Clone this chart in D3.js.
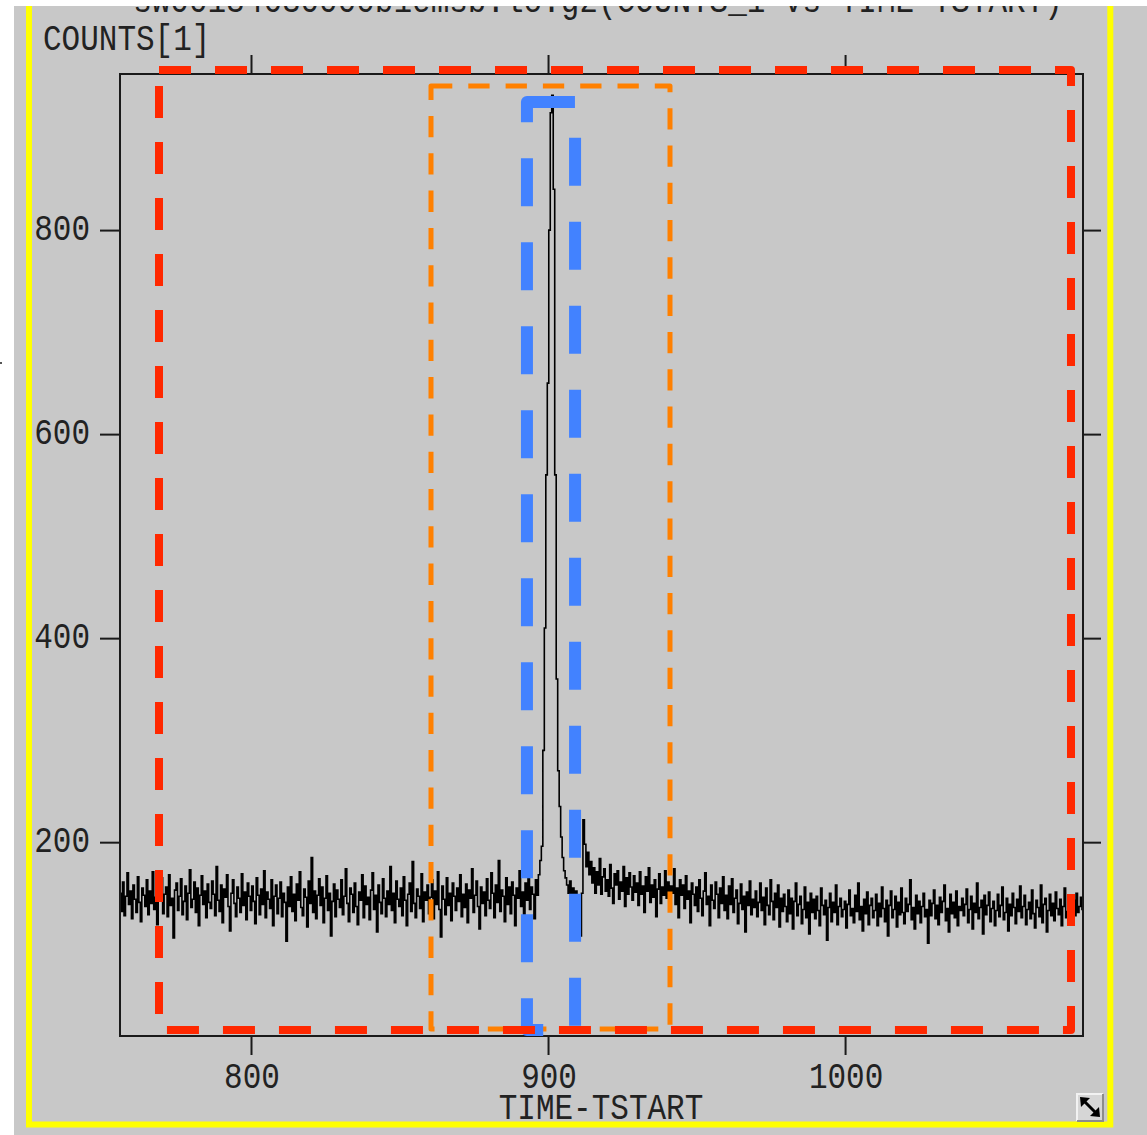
<!DOCTYPE html>
<html><head><meta charset="utf-8">
<script src="https://cdn.jsdelivr.net/npm/d3@7"></script>
<style>html,body{margin:0;padding:0;background:#fff;} svg{display:block}</style>
</head><body>
<svg id="c" width="1147" height="1135"></svg>
<script>
// ---- data ----
const titleText = "sw00134630000b1emsb.lc.gz(COUNTS_1 vs TIME-TSTART)";
const xLabel = "TIME-TSTART";
const yLabel = "COUNTS[1]";
const xTicks = [800, 900, 1000];
const yTicks = [200, 400, 600, 800];
const xDomain = [755.9, 1080.1];
const yDomain = [10, 953];
const tStart = 756;
const binSize = 0.5;
const counts = [
150,132,161,128,147,170,139,152,125,158,144,131,166,141,122,155,148,137,163,129,
152,140,171,134,146,119,158,143,165,130,149,156,127,168,138,145,106,153,160,133,
147,164,129,142,157,124,150,173,136,144,161,131,155,118,148,167,139,152,126,159,
141,135,162,149,128,176,143,132,158,121,154,146,168,137,113,150,163,140,127,156,
145,131,169,138,151,124,160,147,
133,157,142,120,165,148,129,154,139,172,126,151,144,135,163,118,147,158,130,145,
161,127,150,141,103,156,137,166,132,149,123,159,143,171,136,128,154,146,117,162,
140,185,131,152,125,148,164,138,156,121,145,167,133,150,108,142,159,127,153,144,
136,163,129,147,174,140,122,155,149,131,160,137,119,151,143,168,126,157,139,146,
124,153,170,134,148,112,158,141,130,164,145,127,152,139,176,133,150,121,162,144,
137,155,128,166,143,118,149,160,132,181,140,126,154,147,135,169,122,151,143,158,
130,146,163,125,152,139,171,134,107,157,144,129,165,138,150,123,160,147,133,155,
142,168,127,149,136,159,121,153,145,174,131,148,162,137,115,156,140,151,128,164,
143,135,170,150,126,158,141,182,132,153,147,122,165,139,156,130,161,148,118,155,
145,172,137,151,128,160,143,178,134,156,149,125,163,148,
168,182,196,290,410,560,650,800,915,932,840,560,360,270,235,205,185,172,
165,158,150,162,147,155,141,152,138,146,108,150,
222,198,176,190,168,181,160,175,150,171,158,184,149,166,174,152,
163,147,178,155,140,169,158,172,144,161,152,176,137,165,149,170,156,143,167,151,
160,138,171,149,157,131,166,152,175,141,158,146,163,127,154,169,140,156,148,172,
145,161,133,157,150,174,139,155,126,163,148,158,135,167,144,152,121,160,149,138,
156,132,163,145,128,152,170,139,147,118,158,143,135,161,149,126,155,140,166,133,
148,125,157,139,164,131,145,153,120,140,159,134,147,112,151,138,162,129,144,136,
152,127,141,160,133,146,119,155,138,129,163,142,124,150,136,158,117,145,132,149,
137,122,153,130,145,115,142,160,128,139,147,120,134,156,126,141,110,150,131,144,
125,147,133,118,155,138,129,143,104,136,150,122,141,131,158,119,137,145,127,134,
142,116,139,153,128,135,121,148,132,160,124,137,113,144,130,151,119,138,145,126,
133,149,118,140,127,156,135,122,143,108,138,152,126,134,147,117,141,129,155,131,
120,145,132,139,163,124,136,115,148,130,142,121,137,150,127,134,101,143,128,140,
153,125,138,119,146,131,142,158,123,135,112,149,130,141,126,152,118,137,133,145,
128,139,154,121,134,147,115,140,131,160,125,136,143,110,148,129,138,151,122,135,
142,118,133,149,127,138,156,124,131,145,113,139,128,150,136,120,144,132,157,126,
137,148,119,134,141,125,153,130,116,143,136,127,158,121,139,145,112,133,149,128,
140,123,151,135,129,144,118,137,155,126,132,147,120,139,143,128,150,131,137,146,
134
];
// selection boxes in data units: [t0, t1, c0, c1]
const redBox = [769.03, 1076.06, 15.9, 956.9];
const orangeBox = [860.6, 941.06, 16.9, 941.2];
const blueBox = [892.9, 909.1, 15.9, 925.6];

// ---- drawing ----
const svg = d3.select("#c");
const W = 1147, H = 1135;
const x = d3.scaleLinear().domain(xDomain).range([120, 1083]);
const y = d3.scaleLinear().domain(yDomain).range([1036, 74]);

svg.append("rect").attr("x", 0).attr("y", 0).attr("width", W).attr("height", H).attr("fill", "#fff");
svg.append("rect").attr("x", 14).attr("y", 6).attr("width", W - 14).attr("height", H - 6).attr("fill", "#c8c8c8");

const FONT = "'Liberation Mono', 'Courier New', monospace";
function label(px, py, str, anchor) {
  const g = svg.append("g").attr("transform", `translate(${px},${py}) scale(1,1.18)`);
  g.append("text").attr("x", 0).attr("y", 0).attr("text-anchor", anchor)
    .attr("font-family", FONT).attr("font-size", 31).attr("fill", "#222").text(str);
}

// title (clipped at top, as in the reference window)
label(598, 12, titleText, "middle");

// axes (ticks only)
function styleAxis(g) {
  g.select(".domain").remove();
  g.selectAll(".tick line").attr("stroke", "#1a1a1a").attr("stroke-width", 2);
  g.selectAll(".tick text").remove();
}
svg.append("g").attr("transform", "translate(0,1036)")
  .call(d3.axisBottom(x).tickValues(xTicks).tickSize(19).tickFormat("")).call(styleAxis);
svg.append("g").attr("transform", "translate(0,74)")
  .call(d3.axisTop(x).tickValues(xTicks).tickSize(19).tickFormat("")).call(styleAxis);
svg.append("g").attr("transform", "translate(120,0)")
  .call(d3.axisLeft(y).tickValues(yTicks).tickSize(20).tickFormat("")).call(styleAxis);
svg.append("g").attr("transform", "translate(1083,0)")
  .call(d3.axisRight(y).tickValues(yTicks).tickSize(18).tickFormat("")).call(styleAxis);

// tick labels
xTicks.forEach(v => label(x(v) + 1, 1088, String(v), "middle"));
yTicks.forEach(v => label(90, y(v) + 10, String(v), "end"));
label(43, 50, yLabel, "start");
label(601, 1119, xLabel, "middle");

// clip for data
svg.append("clipPath").attr("id", "pc").append("rect")
  .attr("x", 120).attr("y", 74).attr("width", 963).attr("height", 962);

const data = counts.map((c, i) => ({ t: tStart + i * binSize, c }));
const line = d3.line().x(d => x(d.t)).y(d => y(d.c)).curve(d3.curveStep);
svg.append("path").datum(data).attr("clip-path", "url(#pc)")
  .attr("d", line).attr("fill", "none").attr("stroke", "#000").attr("stroke-width", 1.6)
  .attr("stroke-linejoin", "miter");

// frame
svg.append("rect").attr("x", 120).attr("y", 74).attr("width", 963).attr("height", 962)
  .attr("fill", "none").attr("stroke", "#1a1a1a").attr("stroke-width", 2);

// selection boxes
function box(b, color, w, dash) {
  svg.append("rect")
    .attr("x", x(b[0])).attr("y", y(b[3]))
    .attr("width", x(b[1]) - x(b[0])).attr("height", y(b[2]) - y(b[3]))
    .attr("fill", "none").attr("stroke", color).attr("stroke-width", w)
    .attr("stroke-dasharray", dash).attr("stroke-linejoin", "round");
}
box(orangeBox, "#ff8000", 5, "21.3 16");
box(blueBox, "#4282ff", 12, "48 36");
box(redBox, "#ff2800", 8, "32 24");

// yellow border
svg.append("path").attr("d", "M29,6 V1124.5 H1110.3 V6")
  .attr("fill", "none").attr("stroke", "#ffff00").attr("stroke-width", 6);

// resize button
const bx = 1077, by = 1094;
svg.append("rect").attr("x", bx).attr("y", by).attr("width", 26).attr("height", 27).attr("fill", "#d6d6d6");
svg.append("path").attr("d", `M${bx},${by+27} V${by} H${bx+26}`).attr("fill", "none").attr("stroke", "#f2f2f2").attr("stroke-width", 2);
svg.append("path").attr("d", `M${bx},${by+27} H${bx+26} V${by}`).attr("fill", "none").attr("stroke", "#8c8c8c").attr("stroke-width", 2);
svg.append("line").attr("x1", bx+7).attr("y1", by+7).attr("x2", bx+19).attr("y2", by+19)
  .attr("stroke", "#000").attr("stroke-width", 3);
svg.append("path").attr("d", `M${bx+3},${by+3} L${bx+13},${by+4} L${bx+4},${by+13} Z`).attr("fill", "#000");
svg.append("path").attr("d", `M${bx+23},${by+23} L${bx+13},${by+22} L${bx+22},${by+13} Z`).attr("fill", "#000");

// top white strip clipping the title
svg.append("rect").attr("x", 0).attr("y", 0).attr("width", W).attr("height", 6).attr("fill", "#fff");
svg.append("rect").attr("x", 0).attr("y", 362).attr("width", 2).attr("height", 2).attr("fill", "#555");
</script>
</body></html>
